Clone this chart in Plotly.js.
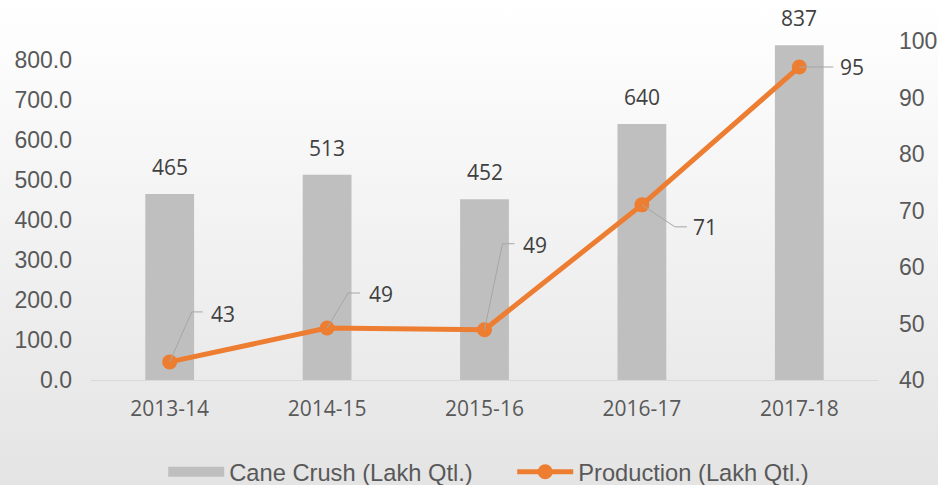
<!DOCTYPE html>
<html>
<head>
<meta charset="utf-8">
<script src="https://cdn.plot.ly/plotly-3.0.1.min.js"></script>
<style>
  html, body { margin: 0; padding: 0; }
  #chart { width: 938px; height: 485px; background: linear-gradient(to bottom, #ffffff 0%, #e4e4e4 100%); }
</style>
</head>
<body>
<div id="chart"></div>
<script>
// ---- data ----
var categories = ['2013-14', '2014-15', '2015-16', '2016-17', '2017-18'];
var caneCrush = [465, 513, 452, 640, 837];
var production = [43.2, 49.2, 48.9, 71.0, 95.4];
var leftTicks = [0, 100, 200, 300, 400, 500, 600, 700, 800];
var rightTicks = [40, 50, 60, 70, 80, 90, 100];
var seriesNames = ['Cane Crush (Lakh Qtl.)', 'Production (Lakh Qtl.)'];

// ---- label styling (pixel offsets of the production labels) ----
var labelOffsets = [[53, 48], [54, 34], [50, 85], [63, -22], [53, 0]];
var leaderPaths = [
  'M0,0L22,50L33,50',
  'M0,0L21,35L33,35',
  'M0,0L18,86L30,86',
  'M0,0L33,-22L45,-22',
  'M0,0L34,0'
];

var tickFont = { family: 'Liberation Sans, Arial, sans-serif', size: 23, color: '#595959' };
var catFont = { family: 'Open Sans, sans-serif', size: 21, color: '#595959' };
var labelFont = { family: 'Open Sans, sans-serif', size: 21, color: '#404040' };

var traces = [
  {
    type: 'bar', x: categories, y: caneCrush, name: seriesNames[0],
    marker: { color: '#bfbfbf' }, width: 0.31, showlegend: false, hoverinfo: 'x+y'
  },
  {
    type: 'scatter', mode: 'lines', x: [null], y: [null], name: seriesNames[0],
    line: { color: '#bfbfbf', width: 14 }, legendrank: 1
  },
  {
    type: 'scatter', mode: 'lines+markers', x: categories, y: production, yaxis: 'y2',
    name: seriesNames[1], line: { color: '#ed7d31', width: 5 },
    marker: { color: '#ed7d31', size: 15 }, legendrank: 2
  }
];

var annotations = [];
var shapes = [];
categories.forEach(function (c, i) {
  annotations.push({
    x: c, y: caneCrush[i], xref: 'x', yref: 'y', text: String(caneCrush[i]),
    showarrow: false, yshift: 27, font: labelFont
  });
  annotations.push({
    x: c, y: production[i], xref: 'x', yref: 'y2', text: String(Math.round(production[i])),
    showarrow: false, xshift: labelOffsets[i][0], yshift: labelOffsets[i][1], font: labelFont
  });
  shapes.push({
    type: 'path', xref: 'x', yref: 'y2', xsizemode: 'pixel', ysizemode: 'pixel',
    xanchor: i, yanchor: production[i], path: leaderPaths[i],
    line: { color: '#a6a6a6', width: 1 }, layer: 'above'
  });
});

var layout = {
  width: 938, height: 485,
  margin: { l: 91, r: 60, t: 41, b: 105, autoexpand: false },
  paper_bgcolor: 'rgba(0,0,0,0)', plot_bgcolor: 'rgba(0,0,0,0)',
  xaxis: {
    type: 'category', showgrid: false, zeroline: false, automargin: false,
    showline: true, linecolor: '#d9d9d9', linewidth: 1,
    tickfont: catFont, ticks: '', ticklabelstandoff: 10
  },
  yaxis: {
    range: [0, 847.5], tickvals: leftTicks, tickformat: '.1f', showgrid: false, zeroline: false,
    automargin: false, showline: false, tickfont: tickFont, ticks: '', ticklabelstandoff: 18
  },
  yaxis2: {
    range: [40, 100], tickvals: rightTicks, overlaying: 'y', side: 'right', showgrid: false,
    automargin: false, zeroline: false, showline: false, tickfont: tickFont, ticks: '', ticklabelstandoff: 20
  },
  showlegend: true,
  legend: {
    orientation: 'h', x: 0.174, xanchor: 'left', xref: 'container',
    y: 0.027, yanchor: 'middle', yref: 'container',
    font: { family: 'Liberation Sans, Arial, sans-serif', size: 23.7, color: '#595959' },
    itemwidth: 56, entrywidth: 278, entrywidthmode: 'pixels', bgcolor: 'rgba(0,0,0,0)'
  },
  annotations: annotations,
  shapes: shapes
};

Plotly.newPlot('chart', traces, layout, { displayModeBar: false, responsive: false });
</script>
</body>
</html>
